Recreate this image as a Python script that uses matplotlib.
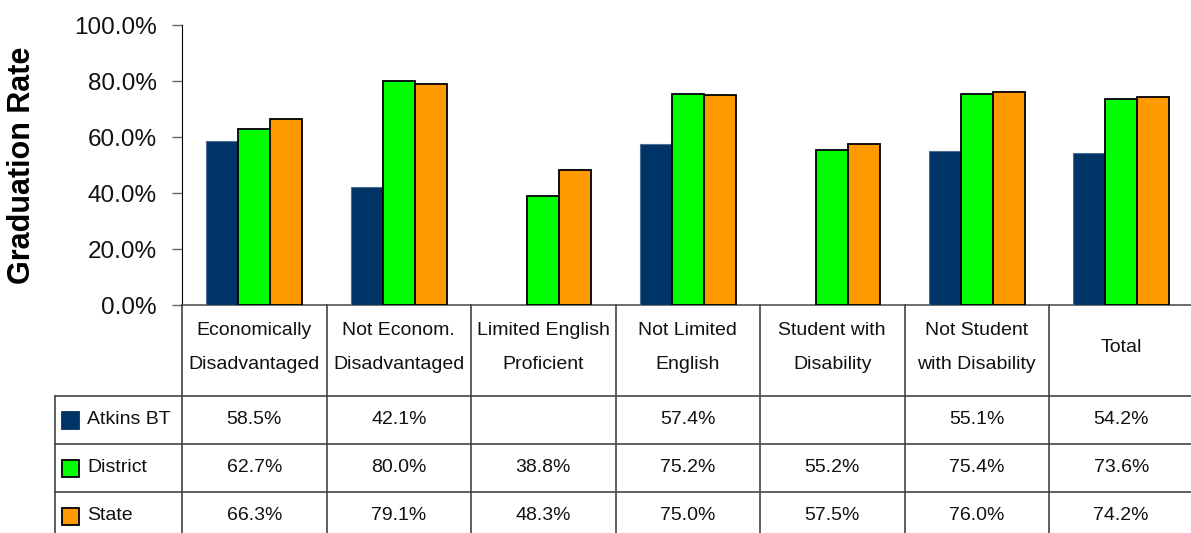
"""Graduation rate by student subgroup: grouped bars with a data table underneath."""
import numpy as np
import matplotlib
matplotlib.use("Agg")
import matplotlib.pyplot as plt
from matplotlib.patches import Rectangle

CATEGORIES = ["Economically\nDisadvantaged", "Not Econom.\nDisadvantaged",
              "Limited English\nProficient", "Not Limited\nEnglish",
              "Student with\nDisability", "Not Student\nwith Disability", "Total"]
ATKINS = [58.5, 42.1, np.nan, 57.4, np.nan, 55.1, 54.2]
DISTRICT = [62.7, 80.0, 38.8, 75.2, 55.2, 75.4, 73.6]
STATE = [66.3, 79.1, 48.3, 75.0, 57.5, 76.0, 74.2]
SERIES = ["Atkins BT", "District", "State"]
Y_TICKS = [0, 20, 40, 60, 80, 100]

COLORS = ["#003366", "#00ff00", "#ff9900"]
EDGES = ["#4d6f93", "black", "black"]
FONT = "Liberation Sans"
W, H = 1191, 533


def main():
    plt.rcParams["font.family"] = [FONT, "DejaVu Sans"]
    fig = plt.figure(figsize=(W / 100, H / 100), dpi=100)

    # pixel geometry of the plot region
    x0, col_w = 182, 144.5
    x1 = x0 + col_w * len(CATEGORIES)
    y_top, y_base = 25, 305
    ax = fig.add_axes([x0 / W, (H - y_base) / H, (x1 - x0) / W, (y_base - y_top) / H])

    xs = np.arange(len(CATEGORIES))
    bw = 0.221
    for i, (vals, c, e) in enumerate(zip([ATKINS, DISTRICT, STATE], COLORS, EDGES)):
        ax.bar(xs + (i - 1) * bw, vals, width=bw, color=c, edgecolor=e,
               linewidth=1.3 if i else 0.8, zorder=3)

    ax.set_xlim(-0.5, len(CATEGORIES) - 0.5)
    ax.set_ylim(0, 100)
    ax.set_yticks(Y_TICKS)
    ax.set_yticklabels([f"{t:.1f}%" for t in Y_TICKS], fontsize=17.5, color="#111")
    ax.tick_params(axis="y", length=7, width=1, color="#666", pad=11)
    ax.set_xticks([])
    for s in ["top", "right"]:
        ax.spines[s].set_visible(False)
    ax.spines["left"].set_color("black")
    ax.spines["bottom"].set_color("#555")
    ax.spines["bottom"].set_linewidth(1.2)
    fig.text(22 / W, 1 - 165 / H, "Graduation Rate", rotation=90, ha="center",
             va="center", fontsize=22, fontweight="bold")

    # ---- data table below ----
    left_px = 55
    hdr_h, row_h = 91, 48
    tbl_h = hdr_h + row_h * 3
    xl = -0.5 - (x0 - left_px) / col_w
    tax = fig.add_axes([left_px / W, (H - y_base - tbl_h) / H,
                        (x1 - left_px) / W, tbl_h / H])
    tax.set_xlim(xl, len(CATEGORIES) - 0.5)
    tax.set_ylim(tbl_h, 0)
    tax.axis("off")

    lc = "#444"
    for i in range(len(CATEGORIES) + 1):
        tax.plot([i - 0.5, i - 0.5], [0, tbl_h], color=lc, lw=1.2, clip_on=False)
    tax.plot([xl, xl], [hdr_h, tbl_h], color=lc, lw=1.2, clip_on=False)
    for r in range(3):
        yy = hdr_h + r * row_h
        tax.plot([xl, len(CATEGORIES) - 0.5], [yy, yy], color=lc, lw=1.2, clip_on=False)

    for i, cat in enumerate(CATEGORIES):
        tax.text(i, hdr_h / 2 - 3, cat, ha="center", va="center", fontsize=14,
                 linespacing=2.35, color="#111")

    sw = 17 / col_w
    for r, (name, vals, c, e) in enumerate(zip(SERIES, [ATKINS, DISTRICT, STATE], COLORS, EDGES)):
        yc = hdr_h + r * row_h + row_h / 2
        tax.add_patch(Rectangle((xl + 7 / col_w, yc - 8.5), sw, 17, facecolor=c,
                                edgecolor=e if r else c, lw=1.3))
        tax.text(xl + 32 / col_w, yc, name, ha="left", va="center", fontsize=14, color="#111")
        for i, v in enumerate(vals):
            if not np.isnan(v):
                tax.text(i, yc, f"{v:.1f}%", ha="center", va="center", fontsize=14, color="#111")

    fig.savefig("out.png", dpi=100, facecolor="white")


if __name__ == "__main__":
    main()
